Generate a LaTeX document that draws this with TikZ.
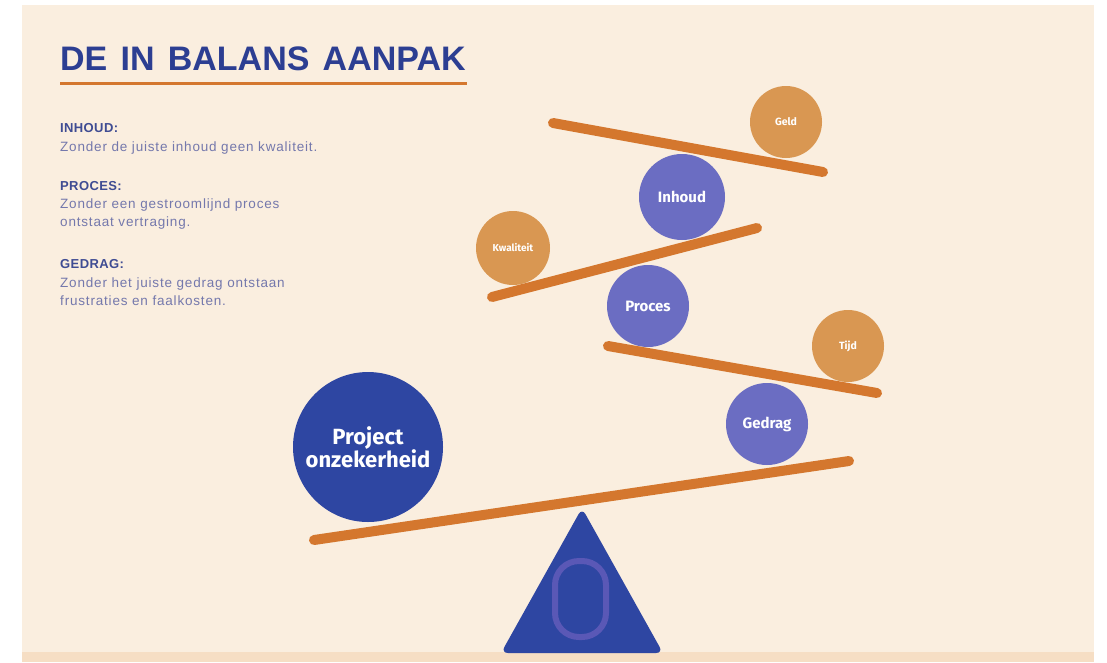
\documentclass[tikz,border=0pt]{standalone}
\usepackage{fontspec}
\setmainfont{Fira Sans}
\newfontfamily\txtfont{Liberation Sans}
\newfontfamily\bodyfont[LetterSpace=6]{Liberation Sans}
\newfontfamily\headfont[LetterSpace=3]{Liberation Sans}
\newfontfamily\titlefont[WordSpace=1.4]{Liberation Sans}
\definecolor{cream}{HTML}{FAEEDF}
\definecolor{band}{HTML}{F6DEC4}
\definecolor{navy}{HTML}{2E46A2}
\definecolor{lav}{HTML}{6B6DC2}
\definecolor{tan}{HTML}{D99752}
\definecolor{beamc}{HTML}{D4772E}
\definecolor{titleblue}{HTML}{2C3E92}
\definecolor{headblue}{HTML}{3F4C93}
\definecolor{bodyblue}{HTML}{7478AC}
\definecolor{ring}{HTML}{5A58B6}
\tikzset{
  ball/.style={circle, inner sep=0pt, text=white, font=\bfseries, align=center},
  bigball/.style={ball, fill=navy, minimum size=150pt, font=\bfseries\fontsize{22}{25}\selectfont},
  midball/.style={ball, fill=lav, font=\bfseries\fontsize{15}{18}\selectfont},
  smallball/.style={ball, fill=tan, font=\bfseries\fontsize{10.5}{12}\selectfont},
  plank/.style={draw=beamc, line width=10pt, line cap=round},
  head/.style={anchor=base west, inner sep=0pt, text=headblue, font=\headfont\bfseries\fontsize{13}{15}\selectfont},
  body/.style={anchor=base west, inner sep=0pt, text=bodyblue, font=\bodyfont\fontsize{13.5}{15}\selectfont, align=left},
}
\begin{document}
\begin{tikzpicture}[x=1pt,y=-1pt]
\useasboundingbox (0,0) rectangle (1107,662);
\fill[white] (0,0) rectangle (1107,662);
\fill[cream] (22,5) rectangle (1094,652);
\fill[band] (22,652) rectangle (1094,662);

% title
\node[anchor=base west, inner sep=0pt, text=titleblue, font=\titlefont\bfseries\fontsize{34}{40}\selectfont] (title) at (60,70) {DE IN BALANS AANPAK};
\draw[beamc, line width=3pt] (60,83) -- (467,83);

% left text
\node[head] (h1) at (60,132) {INHOUD:};
\node[body] (b1) at (60,151) {Zonder de juiste inhoud geen kwaliteit.};
\node[head] (h2) at (60,190) {PROCES:};
\node[body] (b2a) at (60,208) {Zonder een gestroomlijnd proces};
\node[body] (b2b) at (60,226) {ontstaat vertraging.};
\node[head] (h3) at (60,268) {GEDRAG:};
\node[body] (b3a) at (60,287) {Zonder het juiste gedrag ontstaan};
\node[body] (b3b) at (60,305) {frustraties en faalkosten.};

% balls
\node[bigball] (proj) at (368,447) {Project\\[-2pt]onzekerheid};
\node[smallball, minimum size=72pt] (geld) at (786,122) {Geld};
\node[midball, minimum size=86pt] (inhoud) at (682,197) {Inhoud};
\node[smallball, minimum size=74pt, font=\bfseries\fontsize{10}{12}\selectfont] (kwal) at (513,248) {Kwaliteit};
\node[midball, minimum size=82pt] (proces) at (648,306) {Proces};
\node[smallball, minimum size=72pt] (tijd) at (848,346) {Tijd};
\node[midball, minimum size=82pt] (gedrag) at (767,424) {Gedrag};

% planks
\coordinate (p1a) at (553,123); \coordinate (p1b) at (823,172);
\coordinate (p2a) at (492,297); \coordinate (p2b) at (757,228);
\coordinate (p3a) at (608,346); \coordinate (p3b) at (877,393);
\coordinate (p4a) at (314,540); \coordinate (p4b) at (849,461);
\draw[plank] (p1a) -- (p1b);
\draw[plank] (p2a) -- (p2b);
\draw[plank] (p3a) -- (p3b);
\draw[plank] (p4a) -- (p4b);

% fulcrum
\fill[navy, rounded corners=7pt] (582,508) -- (663,653) -- (501,653) -- cycle;
\draw[ring, line width=6pt, rounded corners=24pt] (555,561) rectangle (606,637);
\end{tikzpicture}
\end{document}
